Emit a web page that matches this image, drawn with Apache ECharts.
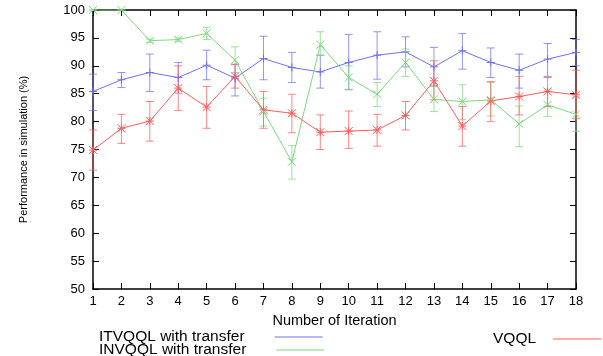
<!DOCTYPE html>
<html><head><meta charset="utf-8">
<script src="https://cdn.jsdelivr.net/npm/echarts@6/dist/echarts.min.js"></script>
<style>html,body{margin:0;padding:0;background:#fff}#c{width:603px;height:356px}</style>
</head><body><div id="c"></div>
<script>
const iterations = [1,2,3,4,5,6,7,8,9,10,11,12,13,14,15,16,17,18];
const yTicks = [50,55,60,65,70,75,80,85,90,95,100];

const itvMean = [85.4,87.5,88.8,87.9,90.1,87.8,91.3,89.7,88.9,90.6,91.9,92.5,89.8,92.7,90.6,89.2,91.2,92.4];
const itvLow  = [82.0,86.1,85.4,85.1,87.5,84.6,87.5,87.0,86.0,85.7,87.6,89.8,86.4,89.4,87.9,86.0,88.1,90.0];
const itvHigh = [88.5,88.8,92.1,90.6,92.8,90.2,95.3,92.4,91.9,95.6,96.1,95.2,93.3,95.8,93.2,92.1,94.0,94.7];

const invMean = [100,100,94.5,94.7,95.8,91.0,81.8,72.8,93.8,87.9,84.9,90.6,84.0,83.6,83.9,79.6,83.0,81.3];
const invLow  = [100,100,94.2,94.4,94.7,88.8,79.2,69.7,91.9,85.8,82.7,88.1,81.8,80.4,81.0,75.5,80.9,78.2];
const invHigh = [100,100,94.8,95.0,96.9,93.4,84.2,75.7,96.1,90.0,87.0,93.0,86.3,86.6,87.0,82.8,85.7,84.4];

const vqMean = [74.9,78.8,80.1,86.0,82.6,88.1,82.1,81.5,78.1,78.3,78.5,81.1,87.3,79.2,83.7,84.5,85.4,84.8];
const vqLow  = [71.3,76.1,76.5,82.0,78.8,86.0,78.8,78.0,75.0,75.2,75.6,78.5,83.9,75.6,80.0,81.2,82.7,80.5];
const vqHigh = [78.5,81.3,83.6,90.0,86.3,90.3,85.4,84.9,81.2,81.9,81.3,83.6,90.9,82.7,87.2,88.1,87.9,89.2];

const seriesNames = ['ITVQQL with transfer','INVQQL with transfer','VQQL'];
const colors = ['#7070f4','#7fd87f','#ff5c5c'];
const markers = ['plus','x','star'];

const chart = echarts.init(document.getElementById('c'));
const FONT = 'Liberation Sans';

function zip(mean, lo, hi){ return iterations.map((x,i)=>[x, mean[i], lo[i], hi[i]]); }

function errRender(color, marker){
  return function(params, api){
    const x = api.value(0), y = api.value(1), lo = api.value(2), hi = api.value(3);
    const p = api.coord([x,y]), pl = api.coord([x,lo]), ph = api.coord([x,hi]);
    const cw = 4, m = 4;
    const st = {stroke: color, lineWidth: 1, opacity: 0.75};
    const children = [
      {type:'line', shape:{x1:p[0],y1:pl[1],x2:p[0],y2:ph[1]}, style:st},
      {type:'line', shape:{x1:p[0]-cw,y1:pl[1],x2:p[0]+cw,y2:pl[1]}, style:st},
      {type:'line', shape:{x1:p[0]-cw,y1:ph[1],x2:p[0]+cw,y2:ph[1]}, style:st}
    ];
    const ms = {stroke: color, lineWidth: 1};
    if (marker === 'plus' || marker === 'star') {
      children.push({type:'line', shape:{x1:p[0]-m,y1:p[1],x2:p[0]+m,y2:p[1]}, style:ms});
      children.push({type:'line', shape:{x1:p[0],y1:p[1]-m,x2:p[0],y2:p[1]+m}, style:ms});
    }
    if (marker === 'x' || marker === 'star') {
      children.push({type:'line', shape:{x1:p[0]-m,y1:p[1]-m,x2:p[0]+m,y2:p[1]+m}, style:ms});
      children.push({type:'line', shape:{x1:p[0]-m,y1:p[1]+m,x2:p[0]+m,y2:p[1]-m}, style:ms});
    }
    return {type:'group', children};
  };
}

const means = [itvMean, invMean, vqMean];
const lows = [itvLow, invLow, vqLow];
const highs = [itvHigh, invHigh, vqHigh];

const series = [];
for (let k=0;k<3;k++){
  series.push({
    name: seriesNames[k], type:'line', xAxisIndex:0, yAxisIndex:0,
    data: iterations.map((x,i)=>[x, means[k][i]]),
    symbol:'none', lineStyle:{color: colors[k], width:1}, itemStyle:{color: colors[k]},
    animation:false, z: 3
  });
  series.push({
    name: seriesNames[k] + ' err', type:'custom', xAxisIndex:0, yAxisIndex:0,
    data: zip(means[k], lows[k], highs[k]),
    renderItem: errRender(colors[k], markers[k]),
    encode:{x:0, y:[1,2,3]}, animation:false, clip:false, z: 2
  });
}

function leg(name, left, top, padRight){
  return {
    orient:'horizontal', align:'right', icon:'rect', itemWidth:48, itemHeight:1,
    left:left, top:top, padding:0, data:[name], selectedMode:false,
    textStyle:{fontFamily:FONT, fontSize:15.5, color:'#000', padding:[0,padRight,0,0]}
  };
}

chart.setOption({
  animation:false,
  textStyle:{fontFamily:FONT},
  grid:{left:93, right:27, top:10, bottom:67},
  legend:[
    leg(seriesNames[0], 99, 329, 25),
    leg(seriesNames[1], 99, 342, 25),
    leg(seriesNames[2], 493, 331, 12)
  ],
  xAxis:[{
    type:'value', min:1, max:18, interval:1,
    name:'Number of Iteration', nameLocation:'middle', nameGap:24,
    nameTextStyle:{fontFamily:FONT, fontSize:14.5, color:'#000'},
    axisLine:{show:true, lineStyle:{color:'#000', width:1.5}},
    axisTick:{show:true, inside:true, length:6, lineStyle:{color:'#000'}},
    axisLabel:{fontFamily:FONT, fontSize:13, color:'#000', margin:6},
    splitLine:{show:false}
  },{
    type:'value', min:1, max:18, interval:1, position:'top',
    axisLine:{show:true, lineStyle:{color:'#000', width:1.5}},
    axisTick:{show:true, inside:true, length:6, lineStyle:{color:'#000'}},
    axisLabel:{show:false}, splitLine:{show:false}
  }],
  yAxis:[{
    type:'value', min:50, max:100, interval:5,
    name:'Performance in simulation (%)', nameLocation:'middle', nameGap:64,
    nameTextStyle:{fontFamily:FONT, fontSize:11, color:'#000'},
    axisLine:{show:true, lineStyle:{color:'#000', width:1.5}},
    axisTick:{show:true, inside:true, length:6, lineStyle:{color:'#000'}},
    axisLabel:{fontFamily:FONT, fontSize:13, color:'#000', margin:8},
    splitLine:{show:false}
  },{
    type:'value', min:50, max:100, interval:5, position:'right',
    axisLine:{show:true, lineStyle:{color:'#000', width:1.5}},
    axisTick:{show:true, inside:true, length:6, lineStyle:{color:'#000'}},
    axisLabel:{show:false}, splitLine:{show:false}
  }],
  series
});
</script></body></html>
